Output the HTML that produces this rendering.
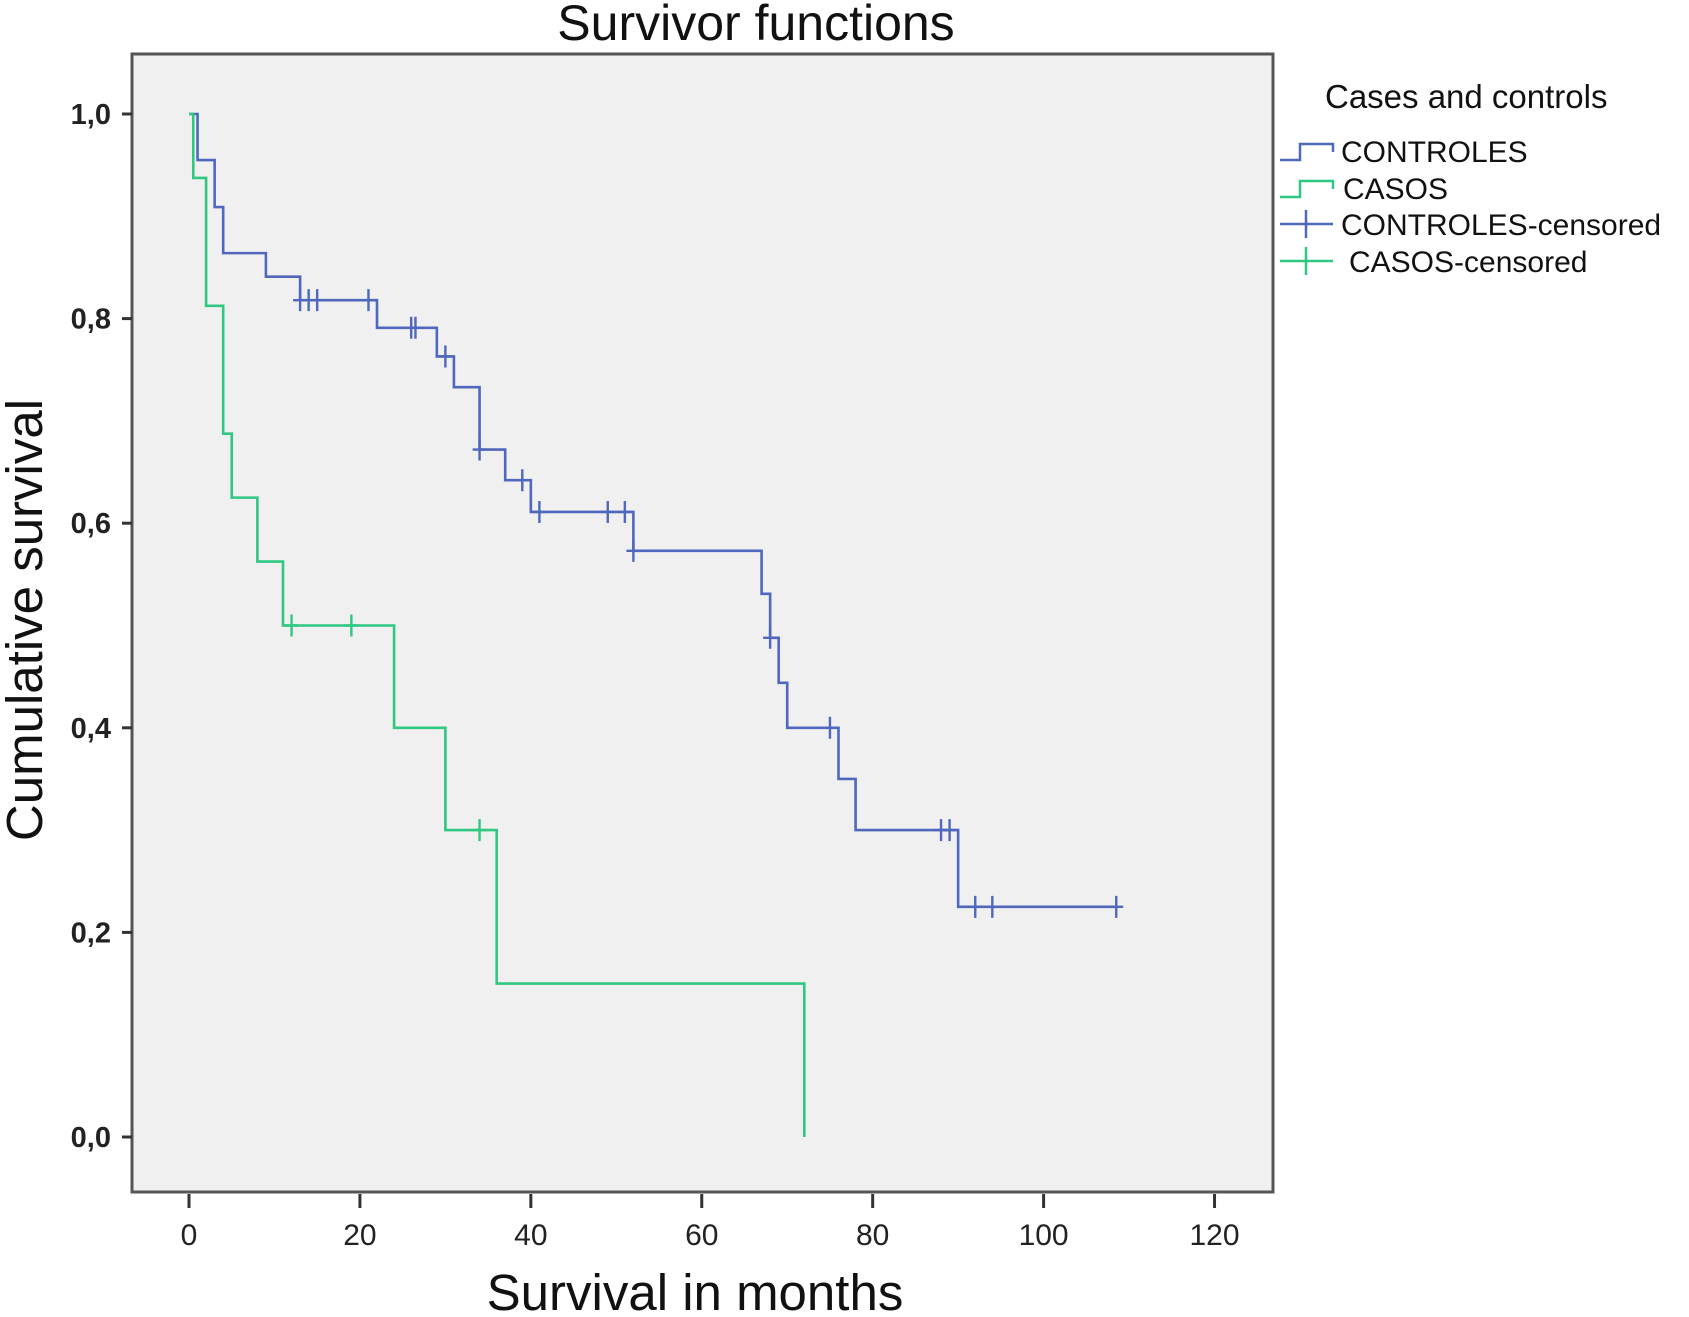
<!DOCTYPE html>
<html><head><meta charset="utf-8"><style>
html,body{margin:0;padding:0;background:#fff;}
svg{display:block;font-family:"Liberation Sans",sans-serif;}
</style></head><body>
<svg id="chart" width="1689" height="1317" viewBox="0 0 1689 1317" xmlns="http://www.w3.org/2000/svg">
<rect x="0" y="0" width="1689" height="1317" fill="#fff"/>
<text x="756" y="40" font-size="50" text-anchor="middle" fill="#111">Survivor functions</text>
<rect x="132" y="54" width="1141" height="1138" fill="#f0f0f0" stroke="#555" stroke-width="3"/>
<g id="yaxis"></g>
<g id="xaxis"></g>
<g id="series"></g>
<text transform="translate(42,620) rotate(-90)" font-size="51" text-anchor="middle" fill="#111">Cumulative survival</text>
<text x="695" y="1310" font-size="51" text-anchor="middle" fill="#111">Survival in months</text>
<g font-size="30" fill="#111">
<text x="1325" y="108" font-size="33">Cases and controls</text>
<g>
<path d="M1280,160 H1300 V144 H1333 V152" fill="none" stroke="#5068b8" stroke-width="2.5"/>
<text x="1341" y="162">CONTROLES</text></g>
<g>
<path d="M1280,197 H1300 V181 H1333 V189" fill="none" stroke="#2ec880" stroke-width="2.5"/>
<text x="1343" y="199">CASOS</text></g>
<g>
<path d="M1280,224 H1333 M1306,210 V238" fill="none" stroke="#5068b8" stroke-width="2.5"/>
<text x="1341" y="235">CONTROLES-censored</text></g>
<g>
<path d="M1280,261 H1333 M1306,247 V275" fill="none" stroke="#2ec880" stroke-width="2.5"/>
<text x="1349" y="272">CASOS-censored</text></g>
</g>
</svg>
<script>
const xTicks = [0,20,40,60,80,100,120];
const yTicks = [0,0.2,0.4,0.6,0.8,1.0];
const yTickLabels = ["0,0","0,2","0,4","0,6","0,8","1,0"];
const controlesTimes = [1,3,4,9,13,22,29,31,34,37,40,52,67,68,69,70,76,78,90];
const controlesSurv  = [0.955,0.909,0.864,0.841,0.818,0.791,0.763,0.733,0.672,0.642,0.611,0.573,0.531,0.488,0.444,0.40,0.35,0.30,0.225];
const controlesEnd = 108.5;
const controlesCensored = [13,14,15,21,26,26.5,30,34,39,41,49,51,52,68,75,88,89,92,94,108.5];
const casosTimes = [0.5,2,4,5,8,11,24,30,36,72];
const casosSurv  = [0.9375,0.8125,0.6875,0.625,0.5625,0.50,0.40,0.30,0.15,0.0];
const casosEnd = 72;
const casosCensored = [12,19,34];

const NS="http://www.w3.org/2000/svg";
const X=t=>189+t*8.546;
const Y=v=>1137-v*1023;
function mk(tag,attrs,parent){const e=document.createElementNS(NS,tag);for(const k in attrs)e.setAttribute(k,attrs[k]);parent.appendChild(e);return e;}
const ya=document.getElementById('yaxis'),xa=document.getElementById('xaxis'),sl=document.getElementById('series');
yTicks.forEach((v,i)=>{
  const l=mk('line',{x1:122,x2:132,y1:Y(v),y2:Y(v),stroke:'#333','stroke-width':3},ya);
  
  
  const t=mk('text',{x:111,y:Y(v)+10,'font-size':29,'font-weight':'bold','text-anchor':'end',fill:'#222'},ya);
  t.textContent=yTickLabels[i];
  
  
});
xTicks.forEach(v=>{
  const l=mk('line',{x1:X(v),x2:X(v),y1:1194,y2:1208,stroke:'#333','stroke-width':3},xa);
  
  
  const t=mk('text',{x:X(v),y:1245,'font-size':30,'text-anchor':'middle',fill:'#222'},xa);
  t.textContent=String(v);
  
  
});
function survAt(times,surv,t){let s=1;for(let i=0;i<times.length;i++){if(times[i]<=t)s=surv[i];}return s;}
function drawSeries(times,surv,end,cens,color,name){
  let d='M'+X(0)+','+Y(1);
  times.forEach((t,i)=>{d+=' H'+X(t)+' V'+Y(surv[i]);});
  if(end>times[times.length-1])d+=' H'+X(end);
  const p=mk('path',{d:d,fill:'none',stroke:color,'stroke-width':2.6},sl);
  
  
  cens.forEach(t=>{
    const v=survAt(times,surv,t);
    const c=mk('path',{d:'M'+(X(t)-7)+','+Y(v)+' H'+(X(t)+7)+' M'+X(t)+','+(Y(v)-11)+' V'+(Y(v)+11),stroke:color,'stroke-width':2.4,fill:'none'},sl);
    
    
  });
}
drawSeries(controlesTimes,controlesSurv,controlesEnd,controlesCensored,'#4f67bc','controles');
drawSeries(casosTimes,casosSurv,casosEnd,casosCensored,'#2ec880','casos');
</script>
</body></html>
